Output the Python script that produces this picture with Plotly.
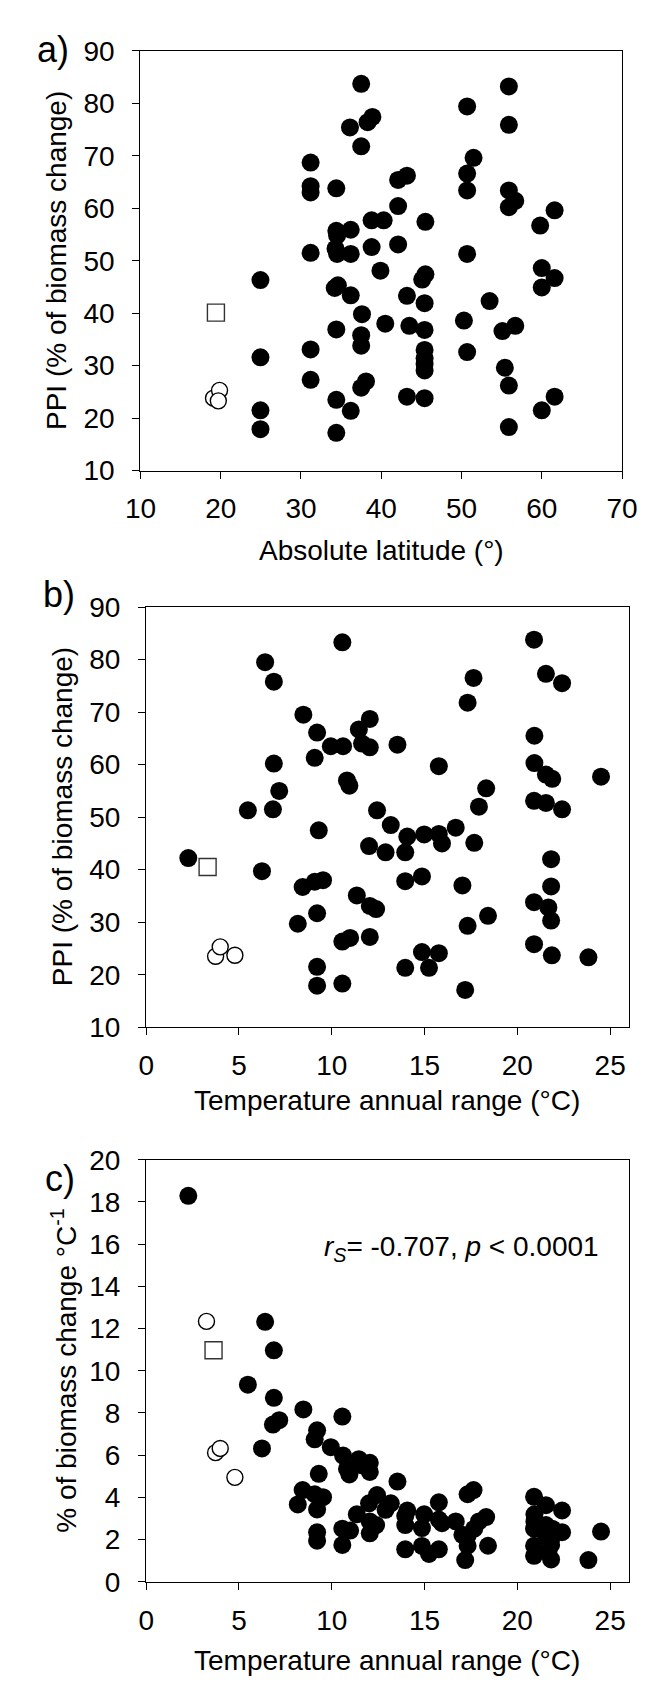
import plotly.graph_objects as go

# ---------------- data ----------------
# Panel a: absolute latitude vs PPI
lat_a = [24.95, 24.95, 24.95, 24.95,
         31.2, 31.2, 31.2, 31.2, 31.2, 31.2,
         34.4, 34.4, 34.5, 34.3, 34.5, 34.2, 34.6, 34.4, 34.4, 34.4,
         36.1, 36.2, 36.2, 36.2, 36.2,
         37.5, 37.5, 37.6, 37.5, 37.5, 37.5, 38.1,
         38.3, 38.9, 38.8, 38.8, 39.9, 40.3, 40.5,
         42.1, 43.2, 42.1, 42.1, 43.2, 43.5, 43.2,
         45.5, 45.1, 45.5, 45.4, 45.4, 45.4, 45.4, 45.4, 45.4, 45.4,
         50.7, 50.7, 50.7, 51.5, 50.7, 50.3, 50.7,
         53.5,
         55.9, 55.9, 55.9, 55.9, 56.7, 55.1, 56.7, 55.4, 55.9, 55.9,
         59.8, 60.0, 60.0, 60.0, 61.6, 61.6, 61.6]
ppi_a = [46.3, 31.6, 21.5, 17.9,
         68.7, 64.2, 63.0, 51.5, 33.1, 27.3,
         63.8, 55.7, 54.8, 52.3, 51.3, 44.8, 45.3, 36.9, 23.5, 17.2,
         75.4, 55.9, 51.3, 43.4, 21.4,
         83.7, 71.8, 39.8, 35.8, 33.8, 25.8, 27.0,
         76.4, 77.4, 57.7, 52.6, 48.1, 57.7, 38.0,
         65.4, 66.2, 60.4, 53.1, 43.3, 37.6, 24.1,
         57.4, 46.4, 47.4, 41.9, 36.8, 33.0, 31.4, 30.3, 29.1, 23.8,
         79.4, 66.6, 63.4, 69.6, 51.3, 38.6, 32.6,
         42.3,
         83.2, 75.9, 63.4, 60.2, 61.4, 36.6, 37.6, 29.6, 26.2, 18.3,
         56.7, 48.6, 44.9, 21.5, 59.6, 46.7, 24.1]
lat_a_open = [19.1, 19.85, 19.7]
ppi_a_open = [23.8, 25.3, 23.3]
lat_a_sq = [19.4]
ppi_a_sq = [40.1]

# Panel b: temperature annual range vs PPI
temp_b = [2.27, 5.48, 6.24, 6.41, 6.88, 6.88, 6.83, 7.17, 8.17, 8.43,
          8.47, 9.08, 9.21, 9.08, 9.53, 9.21, 9.30, 9.21, 9.21, 9.95,
          10.61, 10.57, 10.82, 10.95, 10.57, 10.99, 10.57, 11.35, 11.46, 11.63,
          12.05, 12.05, 12.01, 12.05, 12.39, 12.05, 12.44, 12.90, 13.18, 13.54,
          14.07, 13.96, 13.96, 13.96, 14.86, 14.86, 14.98, 15.24, 15.77, 15.77,
          15.94, 15.77, 16.68, 17.04, 17.32, 17.64, 17.93, 18.32, 17.68, 17.32,
          18.42, 17.19, 20.90, 20.92, 20.92, 20.90, 20.90, 20.90, 21.54, 21.54,
          21.88, 21.54, 21.82, 21.82, 21.67, 21.82, 21.86, 22.41, 22.41, 23.83,
          24.51]
ppi_b = [42.2, 51.3, 39.7, 79.5, 75.8, 60.2, 51.5, 55.0, 29.7, 36.7,
         69.5, 61.3, 66.1, 37.7, 38.0, 31.7, 47.5, 21.5, 17.9, 63.5,
         63.5, 83.3, 57.0, 56.0, 26.3, 27.0, 18.3, 35.1, 66.7, 64.0,
         68.7, 63.3, 44.5, 33.1, 32.5, 27.2, 51.3, 43.3, 48.5, 63.8,
         46.3, 43.3, 37.8, 21.3, 38.7, 24.3, 46.7, 21.3, 59.7, 46.8,
         45.0, 24.1, 48.0, 37.0, 71.8, 76.5, 52.0, 55.5, 45.1, 29.3,
         31.2, 17.1, 83.8, 65.5, 60.3, 53.1, 33.8, 25.8, 77.3, 58.1,
         57.3, 52.7, 42.0, 36.8, 32.8, 30.3, 23.7, 75.5, 51.5, 23.3,
         57.7]
temp_b_open = [3.74, 3.99, 4.78]
ppi_b_open = [23.5, 25.3, 23.7]
temp_b_sq = [3.31]
ppi_b_sq = [40.5]

# Panel c: temperature annual range vs % biomass change per degC
temp_c = [2.27, 5.48, 6.24, 6.41, 6.88, 6.88, 6.83, 7.17, 8.17, 8.43,
          8.47, 9.08, 9.21, 9.08, 9.53, 9.21, 9.30, 9.21, 9.21, 9.95,
          10.61, 10.57, 10.82, 10.95, 10.57, 10.99, 10.57, 11.35, 11.46, 11.63,
          12.05, 12.05, 12.01, 12.05, 12.39, 12.05, 12.44, 12.90, 13.18, 13.54,
          14.07, 13.96, 13.96, 13.96, 14.86, 14.86, 14.98, 15.24, 15.77, 15.77,
          15.94, 15.77, 16.68, 17.04, 17.32, 17.32, 17.32, 17.64, 17.93, 18.32,
          17.68, 18.42, 17.19, 20.90, 20.92, 20.92, 20.90, 20.90, 20.90, 21.54,
          21.54, 21.88, 21.54, 21.82, 21.82, 21.67, 21.82, 22.41, 22.41, 23.83,
          24.51]
pct_c = [18.29, 9.34, 6.32, 12.32, 10.97, 8.72, 7.45, 7.66, 3.67, 4.35,
         8.17, 6.75, 7.18, 4.15, 4.01, 3.43, 5.12, 2.35, 1.95, 6.38,
         5.98, 7.83, 5.35, 5.09, 2.52, 2.43, 1.75, 3.20, 5.81, 5.52,
         5.64, 5.21, 3.72, 2.86, 2.69, 2.30, 4.11, 3.41, 3.72, 4.75,
         3.38, 3.12, 2.69, 1.54, 2.55, 1.70, 3.20, 1.32, 3.77, 2.95,
         2.78, 1.54, 2.86, 2.23, 2.18, 1.71, 4.15, 4.35, 2.86, 3.07,
         2.52, 1.71, 1.03, 4.03, 3.20, 2.86, 2.52, 1.71, 1.23, 3.63,
         2.69, 2.52, 2.18, 2.00, 1.75, 1.41, 1.06, 3.38, 2.35, 1.03,
         2.38]
temp_c_open = [3.25, 3.74, 3.99, 4.78]
pct_c_open = [12.34, 6.12, 6.32, 4.95]
temp_c_sq = [3.63]
pct_c_sq = [10.97]

lat_ticks = [10, 20, 30, 40, 50, 60, 70]
ppi_ticks = [10, 20, 30, 40, 50, 60, 70, 80, 90]
temp_ticks = [0, 5, 10, 15, 20, 25]
pct_ticks = [0, 2, 4, 6, 8, 10, 12, 14, 16, 18, 20]

# ---------------- layout helpers ----------------
W, H = 650, 1688
FONT = "Liberation Sans, Arial, sans-serif"


def px(x):
    return x / W


def py(y):
    return 1 - y / H


panels = {
    "a": dict(l=122.5, r=629, t=28.3, b=456),
    "b": dict(l=128.5, r=636, t=595, b=1023),
    "c": dict(l=128.5, r=636, t=1158, b=1588),
}

fig = go.Figure()


def add_points(x, y, xa, ya):
    fig.add_trace(go.Scatter(x=x, y=y, mode="markers", xaxis=xa, yaxis=ya,
                             marker=dict(size=18, color="black",
                                         line=dict(width=0)),
                             showlegend=False, hoverinfo="skip"))


def add_open(x, y, xa, ya):
    fig.add_trace(go.Scatter(x=x, y=y, mode="markers", xaxis=xa, yaxis=ya,
                             marker=dict(size=16, color="white", symbol="circle",
                                         line=dict(width=1.4, color="black")),
                             showlegend=False, hoverinfo="skip"))


def add_sq(x, y, xa, ya):
    fig.add_trace(go.Scatter(x=x, y=y, mode="markers", xaxis=xa, yaxis=ya,
                             marker=dict(size=17, color="white", symbol="square",
                                         line=dict(width=1.4, color="#333333")),
                             showlegend=False, hoverinfo="skip"))


add_points(lat_a, ppi_a, "x", "y")
add_open(lat_a_open, ppi_a_open, "x", "y")
add_sq(lat_a_sq, ppi_a_sq, "x", "y")

add_points(temp_b, ppi_b, "x2", "y2")
add_open(temp_b_open, ppi_b_open, "x2", "y2")
add_sq(temp_b_sq, ppi_b_sq, "x2", "y2")

add_points(temp_c, pct_c, "x3", "y3")
add_open(temp_c_open, pct_c_open, "x3", "y3")
add_sq(temp_c_sq, pct_c_sq, "x3", "y3")


def axis_common():
    return dict(showline=True, mirror=True, linecolor="black", linewidth=1.4,
                ticks="outside", ticklen=7, tickwidth=1.4, tickcolor="black",
                showgrid=False, zeroline=False,
                tickfont=dict(family=FONT, size=28, color="black"))


def xax(p, rng, ticks, anchor):
    d = axis_common()
    d.update(domain=[px(p["l"]), px(p["r"])], range=rng, tickvals=ticks,
             anchor=anchor, ticklabelstandoff=6)
    return d


def yax(p, rng, ticks, anchor):
    d = axis_common()
    d.update(domain=[py(p["b"]), py(p["t"])], range=rng, tickvals=ticks,
             anchor=anchor, ticklabelstandoff=12)
    return d


pa, pb, pc = panels["a"], panels["b"], panels["c"]
fig.update_layout(
    width=W, height=H, margin=dict(l=0, r=0, t=0, b=0),
    paper_bgcolor="white", plot_bgcolor="white",
    font=dict(family=FONT, color="black"),
    xaxis=xax(pa, [10, 70], lat_ticks, "y"),
    yaxis=yax(pa, [10, 90], ppi_ticks, "x"),
    xaxis2=xax(pb, [0, 26], temp_ticks, "y2"),
    yaxis2=yax(pb, [10, 90], ppi_ticks, "x2"),
    xaxis3=xax(pc, [0, 26], temp_ticks, "y3"),
    yaxis3=yax(pc, [0, 20], pct_ticks, "x3"),
)

anns = []


def ann(text, x, y, size, angle=0, xanchor="center", yanchor="middle"):
    anns.append(dict(text=text, x=px(x), y=py(y), xref="paper", yref="paper",
                     showarrow=False, textangle=angle, xanchor=xanchor,
                     yanchor=yanchor, font=dict(family=FONT, size=size, color="black")))


# panel labels
ann("a)", 31, 27, 36)
ann("b)", 37, 582, 36)
ann("c)", 38, 1177, 36)

# axis titles
ann("Absolute latitude (°)", (pa["l"] + pa["r"]) / 2, 537, 28)
ann("Temperature annual range (°C)", (pb["l"] + pb["r"]) / 2, 1098, 28)
ann("Temperature annual range (°C)", (pc["l"] + pc["r"]) / 2, 1668, 28)
ann("PPI (% of biomass change)", 34, (pa["t"] + pa["b"]) / 2, 28, angle=-90)
ann("PPI (% of biomass change)", 40, (pb["t"] + pb["b"]) / 2, 28, angle=-90)
ann("% of biomass change °C<sup>-1</sup>", 42, (pc["t"] + pc["b"]) / 2, 28, angle=-90)

# statistics
ann("<i>r</i><sub><i>S</i></sub>= -0.707, <i>p</i> &lt; 0.0001", 607, 1248, 28,
    xanchor="right")

fig.update_layout(annotations=anns)

fig.write_html("out.html")
